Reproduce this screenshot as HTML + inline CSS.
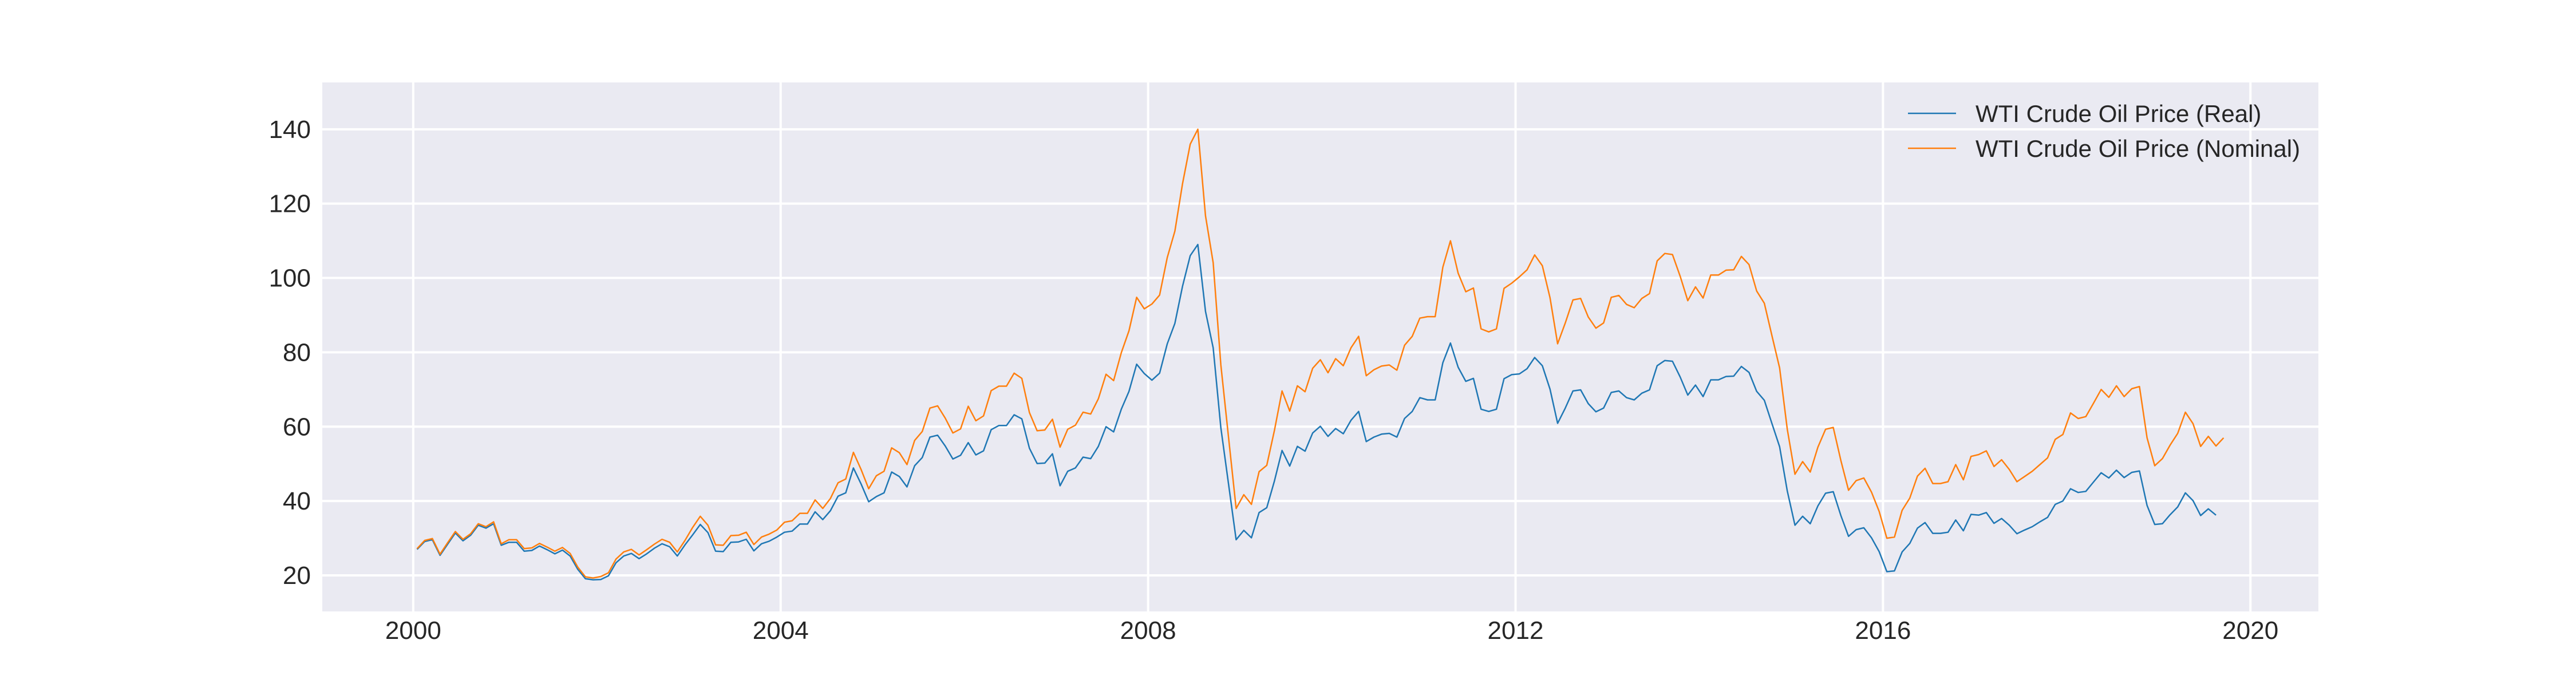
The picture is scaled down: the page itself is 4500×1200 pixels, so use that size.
<!DOCTYPE html>
<html><head><meta charset="utf-8"><style>
html,body{margin:0;padding:0;background:#fff;}
svg{display:block;font-family:"Liberation Sans",Arial,sans-serif;}
</style></head><body>
<svg id="chart" width="4500" height="1200" viewBox="0 0 4500 1200">
<rect x="563" y="144" width="3487" height="924" fill="#eaeaf2"/>
<g id="grid"></g>
<g id="ticks"></g>
<g id="series"></g>
<g>
<line x1="3333" y1="198" x2="3417" y2="198" stroke="#1f77b4" stroke-width="2.5"/>
<text x="3451" y="213" font-size="42" fill="#262626">WTI Crude Oil Price (Real)</text>
<line x1="3333" y1="259" x2="3417" y2="259" stroke="#ff7f0e" stroke-width="2.5"/>
<text x="3451" y="274" font-size="42" fill="#262626">WTI Crude Oil Price (Nominal)</text>
</g>
</svg>
<script>
const startYear = 2000;
const xTicks = [2000, 2004, 2008, 2012, 2016, 2020];
const yTicks = [20, 40, 60, 80, 100, 120, 140];
const nominal = [
27.2,29.4,29.9,25.7,28.8,31.8,29.7,31.2,33.9,33.1,34.4,28.5,
29.6,29.6,27.2,27.4,28.6,27.6,26.5,27.5,25.9,22.2,19.6,19.3,
19.7,20.7,24.4,26.3,27.0,25.5,26.9,28.4,29.7,28.9,26.3,29.4,
32.9,35.9,33.5,28.2,28.1,30.7,30.8,31.6,28.3,30.3,31.1,32.2,
34.3,34.7,36.7,36.7,40.3,38.0,40.7,44.9,45.9,53.1,48.5,43.3,
46.8,48.0,54.3,53.0,49.8,56.3,58.7,65.0,65.6,62.3,58.3,59.4,
65.5,61.6,62.9,69.7,70.9,70.9,74.4,73.0,63.8,58.9,59.1,62.0,
54.5,59.3,60.4,63.9,63.4,67.5,74.1,72.4,79.9,85.8,94.8,91.7,
93.0,95.4,105.5,112.6,125.4,136,140,116.7,104.1,76.6,57.3,38,
41.7,39.1,47.9,49.6,59.0,69.6,64.2,71.0,69.4,75.7,78.0,74.5,
78.3,76.4,81.2,84.3,73.7,75.3,76.3,76.6,75.2,81.9,84.3,89.2,
89.6,89.6,102.9,110.0,101.3,96.3,97.3,86.3,85.5,86.3,97.2,98.6,
100.3,102.2,106.2,103.3,94.7,82.3,87.9,94.1,94.5,89.5,86.5,87.9,
94.8,95.3,92.9,92.0,94.5,95.8,104.6,106.6,106.3,100.5,93.9,97.6,
94.6,100.8,100.8,102.1,102.2,105.8,103.6,96.5,93.2,84.4,75.8,59.3,
47.2,50.6,47.8,54.5,59.3,59.8,50.9,42.9,45.5,46.2,42.4,37.2,
30.0,30.3,37.5,40.8,46.7,48.8,44.7,44.7,45.2,49.8,45.7,52.0,
52.5,53.5,49.3,51.1,48.5,45.2,46.6,48.0,49.8,51.6,56.6,57.9,
63.7,62.2,62.7,66.3,70.0,67.9,71.0,68.1,70.2,70.8,57.0,49.5,
51.4,55.0,58.2,63.9,60.8,54.7,57.4,54.8,57.0];
const real = [
27.0,29.1,29.6,25.4,28.4,31.4,29.3,30.8,33.5,32.7,33.9,28.1,
28.9,28.9,26.5,26.7,27.9,26.9,25.8,26.8,25.2,21.6,19.1,18.8,
18.9,19.9,23.4,25.2,25.9,24.5,25.8,27.3,28.5,27.7,25.2,28.2,
30.9,33.7,31.5,26.5,26.4,28.9,29.0,29.7,26.6,28.5,29.2,30.3,
31.6,31.9,33.8,33.8,37.1,35.0,37.4,41.3,42.2,48.9,44.6,39.8,
41.2,42.2,47.8,46.6,43.8,49.5,51.7,57.2,57.7,54.8,51.3,52.3,
55.7,52.4,53.5,59.2,60.3,60.3,63.2,62.1,54.2,50.1,50.2,52.7,
44.1,48.0,48.9,51.8,51.4,54.7,60.0,58.6,64.7,69.5,76.8,74.3,
72.5,74.4,82.3,87.8,97.8,106,109,91,81.2,59.7,44.7,29.6,
32.1,30.1,36.9,38.2,45.4,53.6,49.4,54.7,53.4,58.3,60.1,57.4,
59.5,58.1,61.7,64.1,56.0,57.2,58.0,58.2,57.2,62.2,64.1,67.8,
67.2,67.2,77.2,82.5,76.0,72.2,73.0,64.7,64.1,64.7,72.9,74.0,
74.2,75.6,78.6,76.4,70.1,60.9,65.0,69.6,69.9,66.2,64.0,65.0,
69.2,69.6,67.8,67.2,69.0,69.9,76.4,77.8,77.6,73.4,68.5,71.2,
68.1,72.6,72.6,73.5,73.6,76.2,74.6,69.5,67.1,60.8,54.6,42.7,
33.5,35.9,33.9,38.7,42.1,42.5,36.1,30.5,32.3,32.8,30.1,26.4,
21.0,21.2,26.3,28.6,32.7,34.2,31.3,31.3,31.6,34.9,32.0,36.4,
36.2,36.9,34.0,35.3,33.5,31.2,32.2,33.1,34.4,35.6,39.1,40.0,
43.3,42.3,42.6,45.1,47.6,46.2,48.3,46.3,47.7,48.1,38.8,33.7,
33.9,36.3,38.4,42.2,40.1,36.1,37.9,36.2];

const L=563,R=4050,T=144,B=1068;
const xMin=1999.01,xMax=2020.74,yMin=10.3,yMax=152.6;
function xs(v){return L+(v-xMin)/(xMax-xMin)*(R-L);}
function ys(v){return B-(v-yMin)/(yMax-yMin)*(B-T);}
const NS="http://www.w3.org/2000/svg";
const grid=document.getElementById('grid'),ticks=document.getElementById('ticks'),series=document.getElementById('series');
yTicks.forEach(v=>{
  const l=document.createElementNS(NS,'line');
  l.setAttribute('x1',L);l.setAttribute('x2',R);l.setAttribute('y1',ys(v));l.setAttribute('y2',ys(v));
  l.setAttribute('stroke','#fff');l.setAttribute('stroke-width','4');
  
  
  grid.appendChild(l);
  const t=document.createElementNS(NS,'text');
  t.setAttribute('x',543);t.setAttribute('y',ys(v)+15);t.setAttribute('text-anchor','end');
  t.setAttribute('font-size','44');t.setAttribute('fill','#262626');t.textContent=v;
  
  
  ticks.appendChild(t);
});
xTicks.forEach(v=>{
  const l=document.createElementNS(NS,'line');
  l.setAttribute('y1',T);l.setAttribute('y2',B);l.setAttribute('x1',xs(v));l.setAttribute('x2',xs(v));
  l.setAttribute('stroke','#fff');l.setAttribute('stroke-width','4');
  
  
  grid.appendChild(l);
  const t=document.createElementNS(NS,'text');
  t.setAttribute('x',xs(v));t.setAttribute('y',1116);t.setAttribute('text-anchor','middle');
  t.setAttribute('font-size','44');t.setAttribute('fill','#262626');t.textContent=v;
  
  
  ticks.appendChild(t);
});
function draw(arr,color,name){
  const pts=arr.map((v,i)=>xs(startYear+(i+0.5)/12).toFixed(1)+','+ys(v).toFixed(1)).join(' ');
  const p=document.createElementNS(NS,'polyline');
  p.setAttribute('points',pts);p.setAttribute('fill','none');p.setAttribute('stroke',color);
  p.setAttribute('stroke-width','2.5');p.setAttribute('stroke-linejoin','round');
  
  
  series.appendChild(p);
}
draw(real,'#1f77b4','real-price-line');
draw(nominal,'#ff7f0e','nominal-price-line');
</script>
</body></html>
